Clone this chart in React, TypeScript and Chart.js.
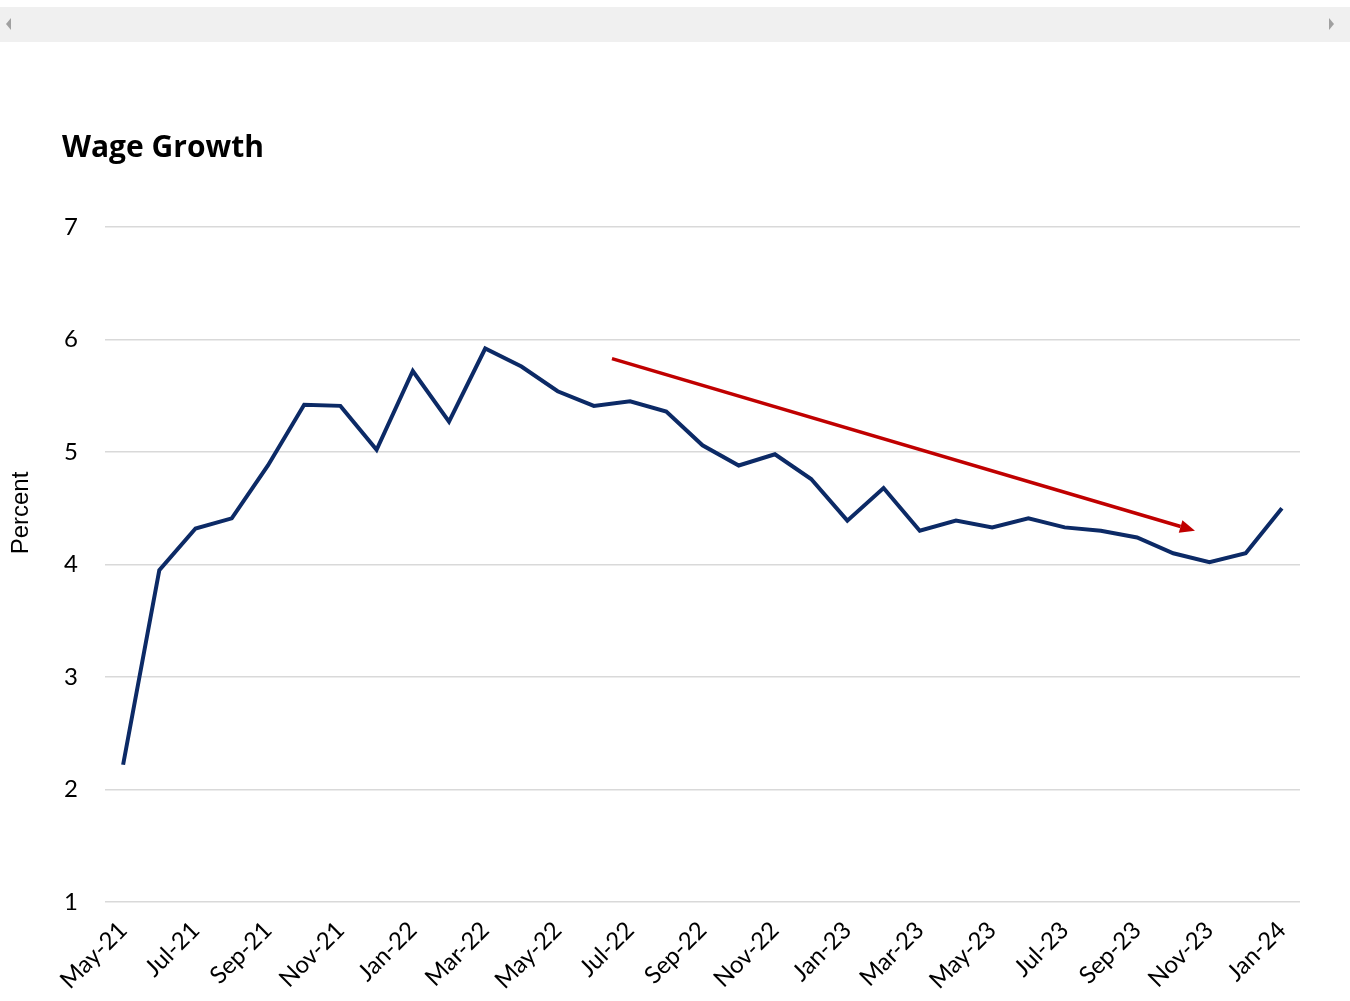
import React, { useEffect, useRef } from "react";
import { Chart, registerables } from "chart.js";

Chart.register(...registerables);

const months = [
  "May-21", "Jun-21", "Jul-21", "Aug-21", "Sep-21", "Oct-21", "Nov-21", "Dec-21",
  "Jan-22", "Feb-22", "Mar-22", "Apr-22", "May-22", "Jun-22", "Jul-22", "Aug-22",
  "Sep-22", "Oct-22", "Nov-22", "Dec-22", "Jan-23", "Feb-23", "Mar-23", "Apr-23",
  "May-23", "Jun-23", "Jul-23", "Aug-23", "Sep-23", "Oct-23", "Nov-23", "Dec-23",
  "Jan-24",
];

const wageGrowth = [
  2.22, 3.95, 4.32, 4.41, 4.88, 5.42, 5.41, 5.02,
  5.72, 5.27, 5.92, 5.76, 5.54, 5.41, 5.45, 5.36,
  5.06, 4.88, 4.98, 4.76, 4.39, 4.68, 4.30, 4.39,
  4.33, 4.41, 4.33, 4.30, 4.24, 4.10, 4.02, 4.10,
  4.50,
];

const yTicks = [1, 2, 3, 4, 5, 6, 7];

// trend arrow: [month index (fractional), value] for start and tip
const arrowStart = [13.5, 5.83];
const arrowEnd = [29.6, 4.3];

const titleText = "Wage Growth";
const yAxisTitle = "Percent";

const textPlugin = {
  id: "texts",
  afterDraw(chart: any) {
    const ctx = chart.ctx;
    ctx.save();
    ctx.fillStyle = "#000000";
    ctx.font = "bold 30px 'Open Sans'";
    ctx.textAlign = "left";
    ctx.textBaseline = "alphabetic";
    ctx.fillText(titleText, 62, 157);
    ctx.translate(28, 513);
    ctx.rotate(-Math.PI / 2);
    ctx.font = "24px 'Liberation Sans'";
    ctx.textAlign = "center";
    ctx.fillText(yAxisTitle, 0, 0);
    ctx.restore();
  },
};

const arrowPlugin = {
  id: "trendArrow",
  afterDatasetsDraw(chart: any) {
    const xs = chart.scales.x;
    const ys = chart.scales.y;
    const x1 = xs.getPixelForValue(arrowStart[0]);
    const y1 = ys.getPixelForValue(arrowStart[1]);
    const x2 = xs.getPixelForValue(arrowEnd[0]);
    const y2 = ys.getPixelForValue(arrowEnd[1]);
    const ang = Math.atan2(y2 - y1, x2 - x1);
    const headLen = 15;
    const headW = 6.5;
    const bx = x2 - headLen * Math.cos(ang);
    const by = y2 - headLen * Math.sin(ang);
    const ctx = chart.ctx;
    ctx.save();
    ctx.strokeStyle = "#C00000";
    ctx.fillStyle = "#C00000";
    ctx.lineWidth = 3.5;
    ctx.lineCap = "butt";
    ctx.beginPath();
    ctx.moveTo(x1, y1);
    ctx.lineTo(bx, by);
    ctx.stroke();
    ctx.beginPath();
    ctx.moveTo(x2, y2);
    ctx.lineTo(bx + headW * Math.sin(ang), by - headW * Math.cos(ang));
    ctx.lineTo(bx - headW * Math.sin(ang), by + headW * Math.cos(ang));
    ctx.closePath();
    ctx.fill();
    ctx.restore();
  },
};

export default function App() {
  const canvasRef = useRef<HTMLCanvasElement | null>(null);

  useEffect(() => {
    if (!canvasRef.current) return;
    const chart = new Chart(canvasRef.current, {
      type: "line",
      data: {
        labels: months,
        datasets: [
          {
            label: "Wage Growth",
            data: wageGrowth,
            borderColor: "#0C2A66",
            borderWidth: 4,
            pointRadius: 0,
            tension: 0,
            fill: false,
            borderJoinStyle: "miter",
          },
        ],
      },
      options: {
        responsive: false,
        animation: false,
        devicePixelRatio: 1,
        layout: { padding: { top: 227, left: 7, right: 50, bottom: 0 } },
        plugins: {
          legend: { display: false },
          tooltip: { enabled: false },
          title: { display: false },
        },
        scales: {
          x: {
            type: "category",
            offset: true,
            grid: { display: false, drawTicks: false },
            border: { display: false },
            ticks: {
              autoSkip: false,
              maxRotation: 45,
              minRotation: 45,
              padding: 14,
              color: "#000000",
              font: { family: "Lato", size: 24 },
              callback: (_v: any, i: number) => (i % 2 === 0 ? months[i] : ""),
            },
            afterFit: (s: any) => {
              s.height = 99;
            },
          },
          y: {
            min: yTicks[0],
            max: yTicks[yTicks.length - 1],
            afterBuildTicks: (s: any) => {
              s.ticks = yTicks.map((v) => ({ value: v }));
            },
            grid: { color: "#d9d9d9", lineWidth: 1.5, drawTicks: false },
            border: { display: false },
            ticks: {
              padding: 27,
              color: "#000000",
              font: { family: "Lato", size: 24 },
            },
            afterFit: (s: any) => {
              s.width = 98;
            },
          },
        },
      },
      plugins: [arrowPlugin, textPlugin],
    } as any);
    return () => chart.destroy();
  }, []);

  return (
    <div style={{ position: "absolute", left: 0, top: 0, width: 1350, height: 1001, background: "#ffffff" }}>
      <canvas
        ref={canvasRef}
        width={1350}
        height={1001}
        style={{ position: "absolute", left: 0, top: 0, width: 1350, height: 1001, display: "block" }}
      />
      <div
        style={{ position: "absolute", left: 0, top: 7, width: 1350, height: 35, background: "#f0f0f0" }}
      >
        <div
          style={{
            position: "absolute", left: 6, top: 17 - 6, width: 0, height: 0,
            borderTop: "6px solid transparent", borderBottom: "6px solid transparent",
            borderRight: "5px solid #a0a0a0",
          }}
        />
        <div
          style={{
            position: "absolute", left: 1329, top: 17 - 6, width: 0, height: 0,
            borderTop: "6px solid transparent", borderBottom: "6px solid transparent",
            borderLeft: "5px solid #a0a0a0",
          }}
        />
      </div>
    </div>
  );
}
